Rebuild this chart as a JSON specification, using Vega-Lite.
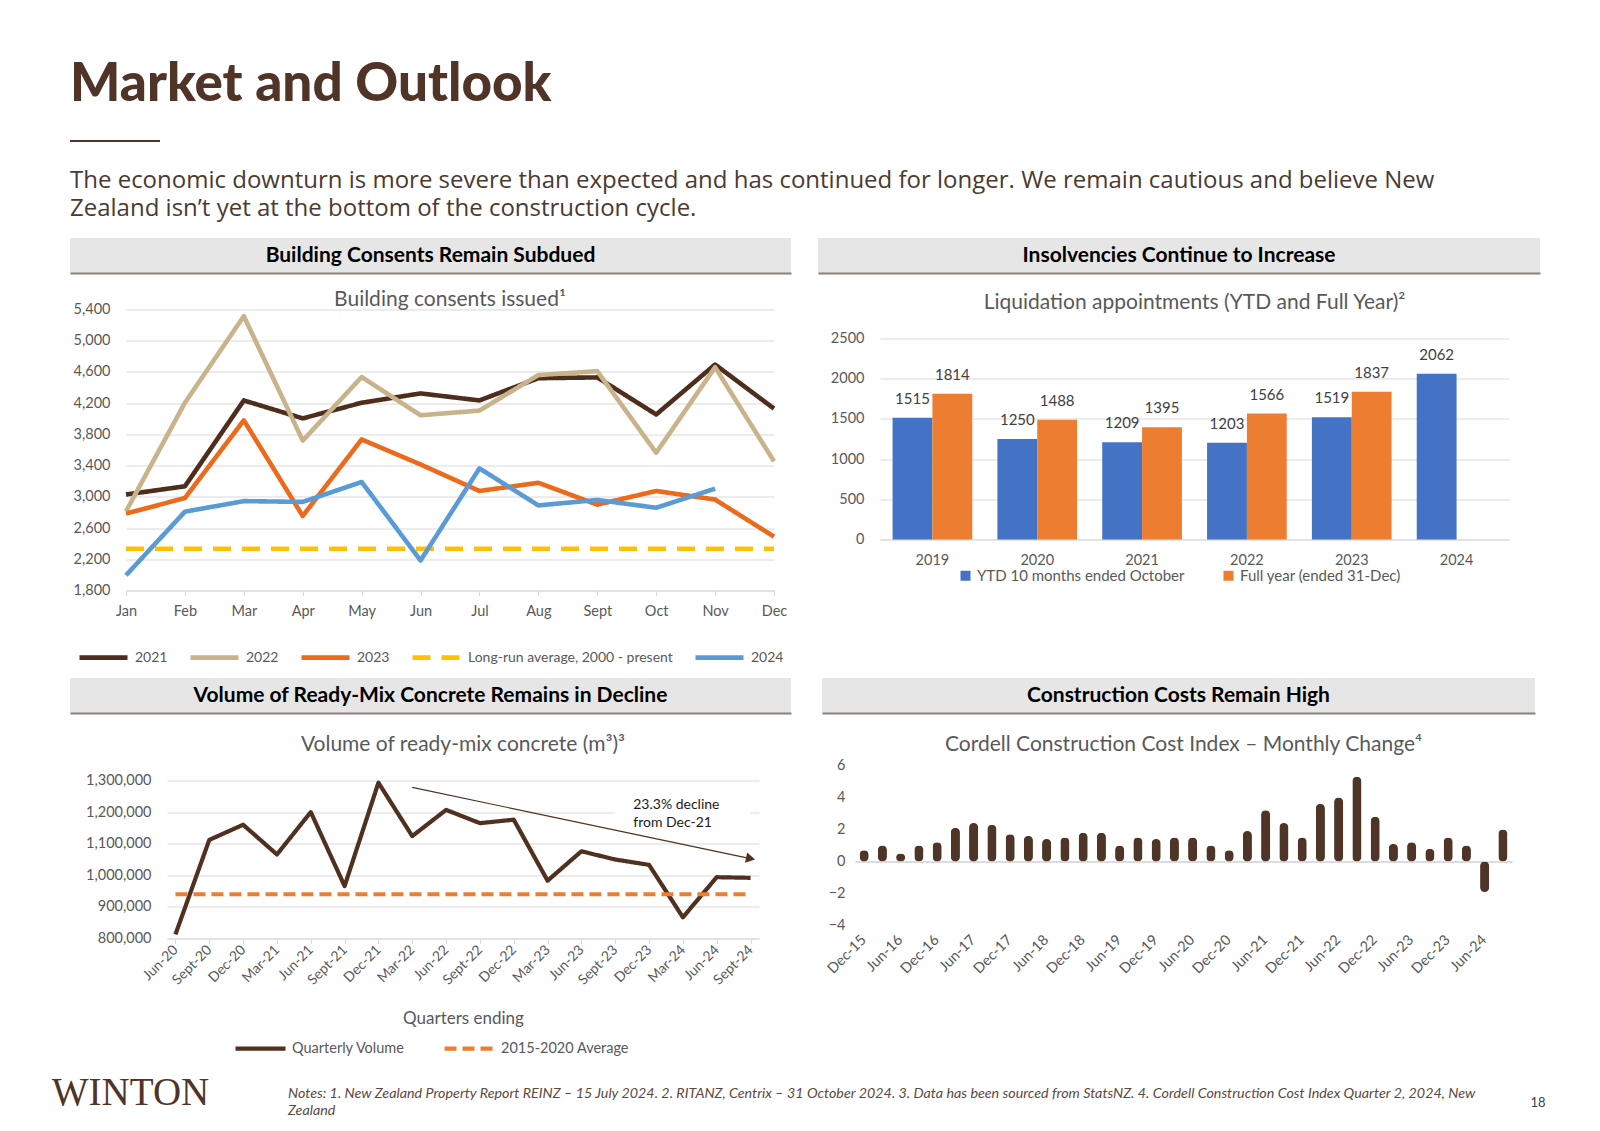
{
  "$schema": "https://vega.github.io/schema/vega-lite/v6.json",
  "background": "white",
  "padding": {"left": 51, "top": 59, "right": 10, "bottom": 0},
  "config": {
    "font": "Lato",
    "view": {"stroke": null},
    "axis": {"labelColor": "#595959", "labelFontSize": 14.5, "labelFont": "Lato", "gridColor": "#d9d9d9", "domainColor": "#d9d9d9", "tickColor": "#d9d9d9", "titleColor": "#595959", "titleFontWeight": "normal", "titleFont": "Lato", "labelOverlap": false},
    "legend": {"labelColor": "#595959", "labelFontSize": 14, "labelFont": "Lato", "labelLimit": 400, "layout": {"anchor": "middle"}},
    "title": {"color": "#595959", "fontWeight": "normal", "fontSize": 21, "font": "Lato"}
  },
  "spacing": 11,
  "resolve": {"scale": {"color": "independent", "strokeDash": "independent"}},
  "vconcat": [
    {
      "width": 90, "height": 2,
      "view": {"fill": "#4f3427", "stroke": null},
      "title": {"text": "Market and Outlook", "anchor": "start", "fontSize": 53, "fontWeight": 900, "font": "Lato", "color": "#4f3427", "offset": 23},
      "data": {"values": [{"t": ""}]},
      "mark": {"type": "text"},
      "encoding": {
        "text": {"field": "t"},
        "x": {"datum": 0, "type": "quantitative", "scale": {"domain": [-1, 1]}, "axis": {"orient": "bottom", "domain": false, "labels": false, "ticks": true, "tickSize": 16, "tickOpacity": 0, "grid": false, "title": null, "tickCount": 1}}
      }
    },
    {
      "title": {"text": ["The economic downturn is more severe than expected and has continued for longer. We remain cautious and believe New", "Zealand isn’t yet at the bottom of the construction cycle."], "anchor": "start", "font": "Open Sans", "fontSize": 24, "fontWeight": "normal", "color": "#4a3a32", "lineHeight": 27.5, "offset": 17.5},
      "spacing": 27,
      "resolve": {"scale": {"color": "independent", "strokeDash": "independent"}},
      "hconcat": [
        {
          "columns": 1,
          "spacing": 15.5,
          "concat": [
            {
              "width": 721, "height": 35,
              "view": {"fill": "#e7e6e6", "stroke": null},
              "data": {"values": [{"h": "Building Consents Remain Subdued"}]},
              "mark": {"type": "text", "fontWeight": "bold", "fontSize": 21, "color": "#000000"},
              "encoding": {"text": {"field": "h"}, "x": {"datum": 0, "type": "quantitative", "scale": {"domain": [-1, 1]}, "axis": {"orient": "bottom", "labels": false, "ticks": false, "grid": false, "title": null, "domainColor": "#8d7f79", "domainWidth": 2}}}
            },
            {
              "spacing": 0,
              "hconcat": [
                {"width": 1, "height": 1, "data": {"values": [{"t": ""}]}, "mark": {"type": "text"}, "encoding": {"text": {"field": "t"}}},
                {
                  "width": 648, "height": 281,
                  "title": {"text": "Building consents issued¹", "offset": -8},
                  "data": {"values": [
                    {"series": "2021", "month": "Jan", "value": 3030}, {"series": "2021", "month": "Feb", "value": 3135}, {"series": "2021", "month": "Mar", "value": 4235}, {"series": "2021", "month": "Apr", "value": 4005}, {"series": "2021", "month": "May", "value": 4205}, {"series": "2021", "month": "Jun", "value": 4325}, {"series": "2021", "month": "Jul", "value": 4235}, {"series": "2021", "month": "Aug", "value": 4520}, {"series": "2021", "month": "Sept", "value": 4530}, {"series": "2021", "month": "Oct", "value": 4055}, {"series": "2021", "month": "Nov", "value": 4695}, {"series": "2021", "month": "Dec", "value": 4130},
                    {"series": "2022", "month": "Jan", "value": 2815}, {"series": "2022", "month": "Feb", "value": 4205}, {"series": "2022", "month": "Mar", "value": 5315}, {"series": "2022", "month": "Apr", "value": 3720}, {"series": "2022", "month": "May", "value": 4535}, {"series": "2022", "month": "Jun", "value": 4045}, {"series": "2022", "month": "Jul", "value": 4105}, {"series": "2022", "month": "Aug", "value": 4560}, {"series": "2022", "month": "Sept", "value": 4610}, {"series": "2022", "month": "Oct", "value": 3565}, {"series": "2022", "month": "Nov", "value": 4660}, {"series": "2022", "month": "Dec", "value": 3455},
                    {"series": "2023", "month": "Jan", "value": 2785}, {"series": "2023", "month": "Feb", "value": 2985}, {"series": "2023", "month": "Mar", "value": 3980}, {"series": "2023", "month": "Apr", "value": 2755}, {"series": "2023", "month": "May", "value": 3735}, {"series": "2023", "month": "Jun", "value": 3415}, {"series": "2023", "month": "Jul", "value": 3075}, {"series": "2023", "month": "Aug", "value": 3180}, {"series": "2023", "month": "Sept", "value": 2900}, {"series": "2023", "month": "Oct", "value": 3075}, {"series": "2023", "month": "Nov", "value": 2965}, {"series": "2023", "month": "Dec", "value": 2490},
                    {"series": "Long-run average, 2000 - present", "month": "Jan", "value": 2335}, {"series": "Long-run average, 2000 - present", "month": "Feb", "value": 2335}, {"series": "Long-run average, 2000 - present", "month": "Mar", "value": 2335}, {"series": "Long-run average, 2000 - present", "month": "Apr", "value": 2335}, {"series": "Long-run average, 2000 - present", "month": "May", "value": 2335}, {"series": "Long-run average, 2000 - present", "month": "Jun", "value": 2335}, {"series": "Long-run average, 2000 - present", "month": "Jul", "value": 2335}, {"series": "Long-run average, 2000 - present", "month": "Aug", "value": 2335}, {"series": "Long-run average, 2000 - present", "month": "Sept", "value": 2335}, {"series": "Long-run average, 2000 - present", "month": "Oct", "value": 2335}, {"series": "Long-run average, 2000 - present", "month": "Nov", "value": 2335}, {"series": "Long-run average, 2000 - present", "month": "Dec", "value": 2335},
                    {"series": "2024", "month": "Jan", "value": 1995}, {"series": "2024", "month": "Feb", "value": 2810}, {"series": "2024", "month": "Mar", "value": 2945}, {"series": "2024", "month": "Apr", "value": 2935}, {"series": "2024", "month": "May", "value": 3190}, {"series": "2024", "month": "Jun", "value": 2185}, {"series": "2024", "month": "Jul", "value": 3365}, {"series": "2024", "month": "Aug", "value": 2890}, {"series": "2024", "month": "Sept", "value": 2960}, {"series": "2024", "month": "Oct", "value": 2860}, {"series": "2024", "month": "Nov", "value": 3105}
                  ]},
                  "mark": {"type": "line", "strokeWidth": 4.6, "strokeJoin": "round"},
                  "encoding": {
                    "x": {"field": "month", "type": "nominal", "scale": {"type": "point", "padding": 0, "domain": ["Jan", "Feb", "Mar", "Apr", "May", "Jun", "Jul", "Aug", "Sept", "Oct", "Nov", "Dec"]}, "axis": {"title": null, "labelAngle": 0, "ticks": true, "tickSize": 5, "labelPadding": 9, "grid": false}},
                    "y": {"field": "value", "type": "quantitative", "scale": {"domain": [1800, 5400]}, "axis": {"title": null, "values": [1800, 2200, 2600, 3000, 3400, 3800, 4200, 4600, 5000, 5400], "format": ",.0f", "domain": false, "ticks": false, "labelPadding": 16, "minExtent": 55}},
                    "color": {"field": "series", "type": "nominal", "scale": {"domain": ["2021", "2022", "2023", "Long-run average, 2000 - present", "2024"], "range": ["#4e2d1d", "#c8b38b", "#ec6a1c", "#ffc000", "#5b9bd5"]}, "legend": {"title": null, "orient": "bottom", "offset": 13, "direction": "horizontal", "symbolType": "stroke", "symbolSize": 2304, "symbolStrokeWidth": 4.6, "labelOffset": 5, "columnPadding": 13}},
                    "strokeDash": {"field": "series", "type": "nominal", "scale": {"domain": ["2021", "2022", "2023", "Long-run average, 2000 - present", "2024"], "range": [[1, 0], [1, 0], [1, 0], [18, 11], [1, 0]]}}
                  }
                }
              ]
            }
          ]
        },
        {
          "columns": 1,
          "spacing": 18.5,
          "concat": [
            {
              "width": 722, "height": 35,
              "view": {"fill": "#e7e6e6", "stroke": null},
              "data": {"values": [{"h": "Insolvencies Continue to Increase"}]},
              "mark": {"type": "text", "fontWeight": "bold", "fontSize": 21, "color": "#000000"},
              "encoding": {"text": {"field": "h"}, "x": {"datum": 0, "type": "quantitative", "scale": {"domain": [-1, 1]}, "axis": {"orient": "bottom", "labels": false, "ticks": false, "grid": false, "title": null, "domainColor": "#8d7f79", "domainWidth": 2}}}
            },
            {
              "spacing": 0,
              "hconcat": [
                {"width": 1, "height": 1, "data": {"values": [{"t": ""}]}, "mark": {"type": "text"}, "encoding": {"text": {"field": "t"}}},
                {
                  "width": 629, "height": 201,
                  "title": {"text": "Liquidation appointments (YTD and Full Year)²", "offset": 18},
                  "data": {"values": [
                    {"year": "2019", "series": "YTD 10 months ended October", "value": 1515}, {"year": "2019", "series": "Full year (ended 31-Dec)", "value": 1814},
                    {"year": "2020", "series": "YTD 10 months ended October", "value": 1250}, {"year": "2020", "series": "Full year (ended 31-Dec)", "value": 1488},
                    {"year": "2021", "series": "YTD 10 months ended October", "value": 1209}, {"year": "2021", "series": "Full year (ended 31-Dec)", "value": 1395},
                    {"year": "2022", "series": "YTD 10 months ended October", "value": 1203}, {"year": "2022", "series": "Full year (ended 31-Dec)", "value": 1566},
                    {"year": "2023", "series": "YTD 10 months ended October", "value": 1519}, {"year": "2023", "series": "Full year (ended 31-Dec)", "value": 1837},
                    {"year": "2024", "series": "YTD 10 months ended October", "value": 2062}
                  ]},
                  "encoding": {
                    "x": {"field": "year", "type": "nominal", "scale": {"paddingInner": 0.24, "paddingOuter": 0.12}, "axis": {"title": null, "labelAngle": 0, "ticks": false, "labelPadding": 14}},
                    "xOffset": {"field": "series", "type": "nominal", "scale": {"domain": ["YTD 10 months ended October", "Full year (ended 31-Dec)"]}},
                    "y": {"field": "value", "type": "quantitative", "scale": {"domain": [0, 2500]}, "axis": {"title": null, "values": [0, 500, 1000, 1500, 2000, 2500], "format": "d", "domain": false, "ticks": false, "labelPadding": 16, "minExtent": 61}}
                  },
                  "layer": [
                    {"mark": {"type": "bar"},
                     "encoding": {"color": {"field": "series", "type": "nominal", "scale": {"domain": ["YTD 10 months ended October", "Full year (ended 31-Dec)"], "range": ["#4472c4", "#ed7d31"]}, "legend": {"title": null, "orient": "bottom", "offset": 1, "direction": "horizontal", "symbolType": "square", "symbolSize": 100, "labelOffset": 4, "columnPadding": 36, "labelFontSize": 15}}}},
                    {"mark": {"type": "text", "baseline": "bottom", "dy": -11, "fontSize": 15, "color": "#404040"},
                     "encoding": {"text": {"field": "value", "type": "quantitative"}}}
                  ]
                }
              ]
            }
          ]
        }
      ]
    },
    {
      "spacing": 31,
      "resolve": {"scale": {"color": "independent", "strokeDash": "independent"}},
      "hconcat": [
        {
          "columns": 1,
          "spacing": 20.5,
          "concat": [
            {
              "width": 721, "height": 35,
              "view": {"fill": "#e7e6e6", "stroke": null},
              "data": {"values": [{"h": "Volume of Ready-Mix Concrete Remains in Decline"}]},
              "mark": {"type": "text", "fontWeight": "bold", "fontSize": 21, "color": "#000000"},
              "encoding": {"text": {"field": "h"}, "x": {"datum": 0, "type": "quantitative", "scale": {"domain": [-1, 1]}, "axis": {"orient": "bottom", "labels": false, "ticks": false, "grid": false, "title": null, "domainColor": "#8d7f79", "domainWidth": 2}}}
            },
            {
              "spacing": 0,
              "hconcat": [
                {"width": 1, "height": 1, "data": {"values": [{"t": ""}]}, "mark": {"type": "text"}, "encoding": {"text": {"field": "t"}}},
                {
                  "width": 592, "height": 158,
                  "title": {"text": "Volume of ready-mix concrete (m³)³", "offset": 18},
                  "encoding": {
                    "x": {"field": "q", "type": "nominal", "scale": {"type": "point", "padding": 0.25, "domain": ["Jun-20", "Sept-20", "Dec-20", "Mar-21", "Jun-21", "Sept-21", "Dec-21", "Mar-22", "Jun-22", "Sept-22", "Dec-22", "Mar-23", "Jun-23", "Sept-23", "Dec-23", "Mar-24", "Jun-24", "Sept-24"]}, "axis": {"title": "Quarters ending", "titleFontSize": 17, "titlePadding": 23, "labelAngle": -45, "labelAlign": "right", "labelBaseline": "middle", "ticks": true, "tickSize": 5, "labelPadding": 4, "grid": false, "labelFontSize": 14}},
                    "y": {"field": "v", "type": "quantitative", "scale": {"domain": [800000, 1300000]}, "axis": {"title": null, "values": [800000, 900000, 1000000, 1100000, 1200000, 1300000], "format": ",.0f", "domain": false, "ticks": false, "labelPadding": 16, "minExtent": 95.5}}
                  },
                  "layer": [
                    {
                      "data": {"values": [{"q": "Sept-23", "q2": "Sept-24", "v": 1145000, "v2": 1239000}]},
                      "mark": {"type": "rect", "color": "white"},
                      "encoding": {"x2": {"field": "q2"}, "y2": {"field": "v2"}}
                    },
                    {
                      "data": {"values": [
                        {"series": "Quarterly Volume", "q": "Jun-20", "v": 813000}, {"series": "Quarterly Volume", "q": "Sept-20", "v": 1112000}, {"series": "Quarterly Volume", "q": "Dec-20", "v": 1160000}, {"series": "Quarterly Volume", "q": "Mar-21", "v": 1066000}, {"series": "Quarterly Volume", "q": "Jun-21", "v": 1200000}, {"series": "Quarterly Volume", "q": "Sept-21", "v": 966000}, {"series": "Quarterly Volume", "q": "Dec-21", "v": 1293000}, {"series": "Quarterly Volume", "q": "Mar-22", "v": 1124000}, {"series": "Quarterly Volume", "q": "Jun-22", "v": 1207000}, {"series": "Quarterly Volume", "q": "Sept-22", "v": 1165000}, {"series": "Quarterly Volume", "q": "Dec-22", "v": 1176000}, {"series": "Quarterly Volume", "q": "Mar-23", "v": 983000}, {"series": "Quarterly Volume", "q": "Jun-23", "v": 1076000}, {"series": "Quarterly Volume", "q": "Sept-23", "v": 1050000}, {"series": "Quarterly Volume", "q": "Dec-23", "v": 1033000}, {"series": "Quarterly Volume", "q": "Mar-24", "v": 867000}, {"series": "Quarterly Volume", "q": "Jun-24", "v": 994000}, {"series": "Quarterly Volume", "q": "Sept-24", "v": 992000},
                        {"series": "2015-2020 Average", "q": "Jun-20", "v": 940000}, {"series": "2015-2020 Average", "q": "Sept-20", "v": 940000}, {"series": "2015-2020 Average", "q": "Dec-20", "v": 940000}, {"series": "2015-2020 Average", "q": "Mar-21", "v": 940000}, {"series": "2015-2020 Average", "q": "Jun-21", "v": 940000}, {"series": "2015-2020 Average", "q": "Sept-21", "v": 940000}, {"series": "2015-2020 Average", "q": "Dec-21", "v": 940000}, {"series": "2015-2020 Average", "q": "Mar-22", "v": 940000}, {"series": "2015-2020 Average", "q": "Jun-22", "v": 940000}, {"series": "2015-2020 Average", "q": "Sept-22", "v": 940000}, {"series": "2015-2020 Average", "q": "Dec-22", "v": 940000}, {"series": "2015-2020 Average", "q": "Mar-23", "v": 940000}, {"series": "2015-2020 Average", "q": "Jun-23", "v": 940000}, {"series": "2015-2020 Average", "q": "Sept-23", "v": 940000}, {"series": "2015-2020 Average", "q": "Dec-23", "v": 940000}, {"series": "2015-2020 Average", "q": "Mar-24", "v": 940000}, {"series": "2015-2020 Average", "q": "Jun-24", "v": 940000}, {"series": "2015-2020 Average", "q": "Sept-24", "v": 940000}
                      ]},
                      "mark": {"type": "line", "strokeWidth": 4.2, "strokeJoin": "round"},
                      "encoding": {
                        "color": {"field": "series", "type": "nominal", "scale": {"domain": ["Quarterly Volume", "2015-2020 Average"], "range": ["#50301f", "#ed7d31"]}, "legend": {"title": null, "orient": "bottom", "offset": -6, "direction": "horizontal", "symbolType": "stroke", "symbolSize": 2500, "symbolStrokeWidth": 4.2, "labelOffset": 4, "columnPadding": 31, "labelFontSize": 14.5}},
                        "strokeDash": {"field": "series", "type": "nominal", "scale": {"domain": ["Quarterly Volume", "2015-2020 Average"], "range": [[1, 0], [12, 6]]}}
                      }
                    },
                    {
                      "data": {"values": [{"q": "Mar-22", "q2": "Sept-24", "v": 1278000, "v2": 1053000}]},
                      "mark": {"type": "rule", "color": "#50301f", "strokeWidth": 1.2},
                      "encoding": {"x2": {"field": "q2"}, "y2": {"field": "v2"}}
                    },
                    {
                      "data": {"values": [{"q": "Sept-24", "v": 1053000}]},
                      "mark": {"type": "point", "shape": "triangle-right", "filled": true, "color": "#50301f", "opacity": 1, "size": 110, "angle": 12}
                    },
                    {
                      "data": {"values": [{"q": "Sept-23", "v": 1224000, "t": "23.3% decline"}, {"q": "Sept-23", "v": 1166000, "t": "from Dec-21"}]},
                      "mark": {"type": "text", "align": "left", "dx": 18, "fontSize": 14, "color": "#1a1a1a"},
                      "encoding": {"text": {"field": "t"}}
                    }
                  ]
                }
              ]
            }
          ]
        },
        {
          "columns": 1,
          "spacing": 20.5,
          "concat": [
            {
              "width": 713, "height": 35,
              "view": {"fill": "#e7e6e6", "stroke": null},
              "data": {"values": [{"h": "Construction Costs Remain High"}]},
              "mark": {"type": "text", "fontWeight": "bold", "fontSize": 21, "color": "#000000"},
              "encoding": {"text": {"field": "h"}, "x": {"datum": 0, "type": "quantitative", "scale": {"domain": [-1, 1]}, "axis": {"orient": "bottom", "labels": false, "ticks": false, "grid": false, "title": null, "domainColor": "#8d7f79", "domainWidth": 2}}}
            },
            {
              "spacing": 0,
              "hconcat": [
                {"width": 1, "height": 1, "data": {"values": [{"t": ""}]}, "mark": {"type": "text"}, "encoding": {"text": {"field": "t"}}},
                {
                  "width": 657, "height": 160,
                  "title": {"text": "Cordell Construction Cost Index – Monthly Change⁴", "offset": 3},
                  "data": {"values": [
                    {"q": "Dec-15", "v": 0.7}, {"q": "Mar-16", "v": 1.0}, {"q": "Jun-16", "v": 0.5}, {"q": "Sep-16", "v": 1.0},
                    {"q": "Dec-16", "v": 1.2}, {"q": "Mar-17", "v": 2.1}, {"q": "Jun-17", "v": 2.4}, {"q": "Sep-17", "v": 2.3},
                    {"q": "Dec-17", "v": 1.7}, {"q": "Mar-18", "v": 1.6}, {"q": "Jun-18", "v": 1.4}, {"q": "Sep-18", "v": 1.5},
                    {"q": "Dec-18", "v": 1.8}, {"q": "Mar-19", "v": 1.8}, {"q": "Jun-19", "v": 1.0}, {"q": "Sep-19", "v": 1.5},
                    {"q": "Dec-19", "v": 1.4}, {"q": "Mar-20", "v": 1.5}, {"q": "Jun-20", "v": 1.5}, {"q": "Sep-20", "v": 1.0},
                    {"q": "Dec-20", "v": 0.7}, {"q": "Mar-21", "v": 1.9}, {"q": "Jun-21", "v": 3.2}, {"q": "Sep-21", "v": 2.4},
                    {"q": "Dec-21", "v": 1.5}, {"q": "Mar-22", "v": 3.6}, {"q": "Jun-22", "v": 4.0}, {"q": "Sep-22", "v": 5.3},
                    {"q": "Dec-22", "v": 2.8}, {"q": "Mar-23", "v": 1.1}, {"q": "Jun-23", "v": 1.2}, {"q": "Sep-23", "v": 0.8},
                    {"q": "Dec-23", "v": 1.5}, {"q": "Mar-24", "v": 1.0}, {"q": "Jun-24", "v": -1.9}, {"q": "Sep-24", "v": 2.0}
                  ]},
                  "mark": {"type": "bar", "color": "#4e3527", "cornerRadius": 4.5},
                  "encoding": {
                    "x": {"field": "q", "type": "nominal", "sort": null, "scale": {"paddingInner": 0.5, "paddingOuter": 0.25}, "axis": {"title": null, "labelAngle": -45, "labelAlign": "right", "labelBaseline": "middle", "ticks": false, "domain": false, "labelPadding": 12, "labelExpr": "(indexof(datum.label, 'Dec') == 0 || indexof(datum.label, 'Jun') == 0) ? datum.label : ''"}},
                    "y": {"field": "v", "type": "quantitative", "scale": {"domain": [-4, 6]}, "axis": {"title": null, "values": [-4, -2, 0, 2, 4, 6], "grid": true, "gridWidth": 1.5, "gridColor": {"condition": {"test": "datum.value === 0", "value": "#d0d0d0"}, "value": "transparent"}, "domain": false, "ticks": false, "labelPadding": 10, "minExtent": 32, "labelOverlap": false}}
                  }
                }
              ]
            }
          ]
        }
      ]
    },
    {
      "spacing": 49,
      "hconcat": [
        {
          "width": 121, "height": 49,
          "data": {"values": [{"t": "WINTON"}]},
          "mark": {"type": "text", "font": "Liberation Serif", "fontSize": 39, "color": "#4f3427"},
          "encoding": {"text": {"field": "t"}}
        },
        {
          "width": 58, "height": 51,
          "data": {"values": [{"t": "Notes: 1. New Zealand Property Report  REINZ – 15 July 2024. 2. RITANZ, Centrix – 31 October 2024. 3. Data has been sourced from StatsNZ. 4. Cordell Construction Cost Index Quarter 2, 2024, New\n\u00a0\u00a0\u00a0\u00a0\u00a0\u00a0\u00a0\u00a0\u00a0\u00a0\u00a0\u00a0\u00a0\u00a0\u00a0\u00a0Zealand"}]},
          "mark": {"type": "text", "align": "left", "font": "Lato", "fontStyle": "italic", "fontSize": 14.3, "color": "#5b4a41", "lineBreak": "\n", "lineHeight": 17},
          "encoding": {"text": {"field": "t"}}
        },
        {
          "width": 14, "height": 51,
          "data": {"values": [{"t": "18"}]},
          "mark": {"type": "text", "fontSize": 13, "color": "#404040", "dy": 9},
          "encoding": {"text": {"field": "t"}}
        }
      ]
    }
  ]
}
